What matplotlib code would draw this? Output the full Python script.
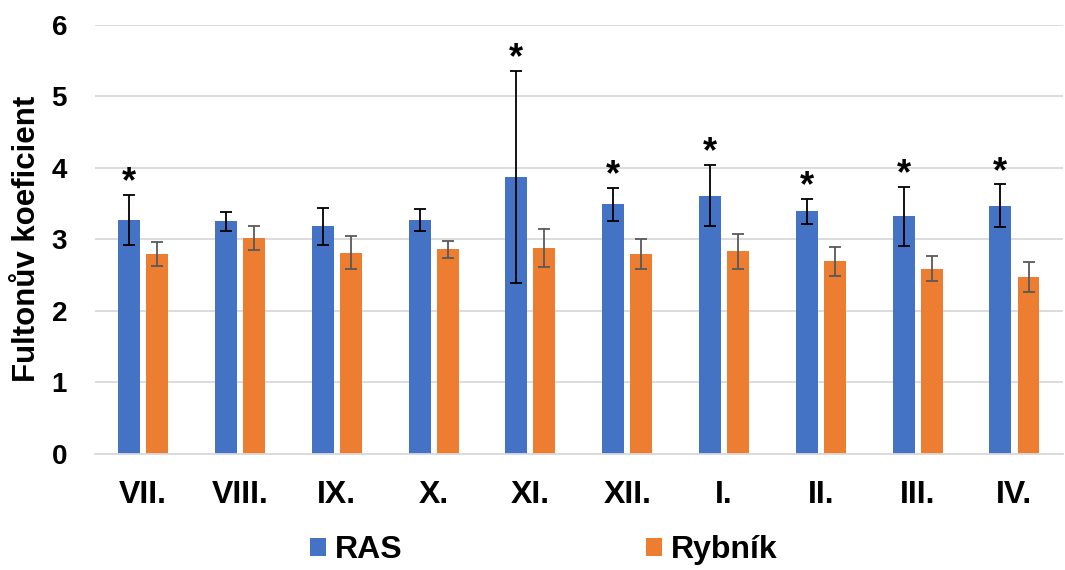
import numpy as np
import matplotlib; matplotlib.use("Agg"); import matplotlib.pyplot as plt

plt.rcParams["font.family"] = ["Liberation Sans", "DejaVu Sans"]
plt.rcParams["font.weight"] = "bold"

BLUE = "#4472C4"; ORANGE = "#ED7D31"; GRID = "#D9D9D9"

months = ["VII.", "VIII.", "IX.", "X.", "XI.", "XII.", "I.", "II.", "III.", "IV."]
ras = [3.27, 3.25, 3.18, 3.27, 3.87, 3.49, 3.61, 3.39, 3.32, 3.47]
ras_err = [0.35, 0.13, 0.26, 0.15, 1.48, 0.23, 0.43, 0.175, 0.41, 0.30]
rybnik = [2.79, 3.02, 2.81, 2.86, 2.88, 2.80, 2.83, 2.69, 2.59, 2.47]
rybnik_err = [0.17, 0.17, 0.23, 0.12, 0.27, 0.21, 0.25, 0.20, 0.17, 0.21]
signif = [True, False, False, False, True, True, True, True, True, True]

fig = plt.figure(figsize=(10.65, 5.7), dpi=100)
ax = fig.add_axes([0.089, 0.2035, 0.909, 0.7535])

x = np.arange(len(months))
w = 0.227; off = 0.145
ax.bar(x - off, ras, w, color=BLUE, label="RAS", zorder=2)
ax.bar(x + off, rybnik, w, color=ORANGE, label="Rybník", zorder=2)
ax.errorbar(x - off, ras, yerr=ras_err, fmt="none", ecolor="black",
            elinewidth=1.3, capsize=4, capthick=1.3, zorder=3)
ax.errorbar(x + off, rybnik, yerr=rybnik_err, fmt="none", ecolor="#595959",
            elinewidth=1.3, capsize=4, capthick=1.3, zorder=3)

# significance marks above the RAS error bars
for xi, v, e, s in zip(x - off, ras, ras_err, signif):
    if s:
        ax.annotate("*", (xi, v + e), xytext=(0, -4), textcoords="offset points",
                    ha="center", va="bottom", fontsize=26, fontweight="bold")

ax.set_xlim(-0.5, len(months) - 0.5)
ax.set_ylim(0, 6)
ax.set_yticks(range(7))
ax.set_xticks(x)
ax.set_xticklabels(months)
ax.yaxis.grid(True, color=GRID, lw=1.3, zorder=0)
ax.set_axisbelow(True)
for sp in ["top", "right", "left"]:
    ax.spines[sp].set_visible(False)
ax.spines["bottom"].set_color(GRID); ax.spines["bottom"].set_linewidth(1.3)
ax.tick_params(axis="both", length=0)
ax.tick_params(axis="x", pad=19, labelsize=23)
ax.tick_params(axis="y", pad=20, labelsize=20)
ax.set_ylabel("Fultonův koeficient", fontsize=22.5, fontweight="bold")
ax.yaxis.set_label_coords(-0.055, 0.5)

fig.legend(loc="center", bbox_to_anchor=(0.5105, 0.035), ncol=2, frameon=False,
           fontsize=23, handlelength=0.5, handleheight=0.5, handletextpad=0.3,
           columnspacing=7.6)

fig.savefig("out.png", dpi=100)
